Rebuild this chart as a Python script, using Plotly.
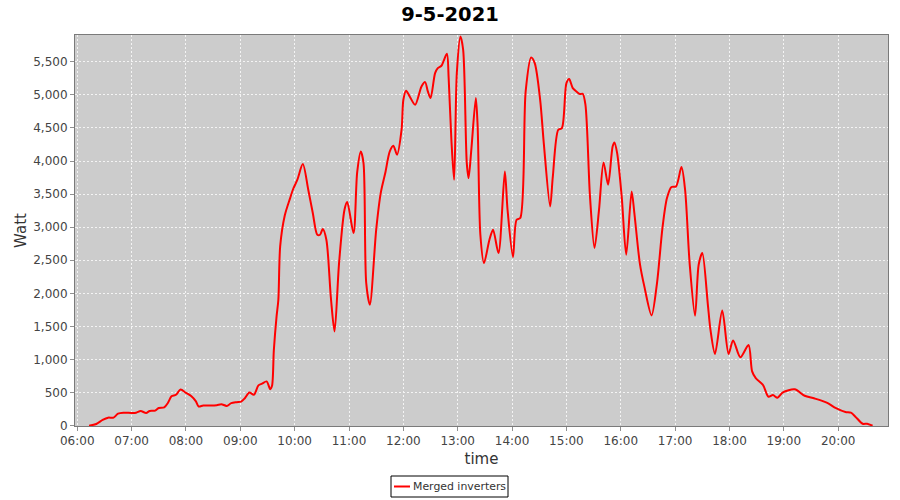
import plotly.graph_objects as go

date = "2021-05-09"
title_text = "9-5-2021"
series_name = "Merged inverters"

times = ["06:13", "06:21", "06:28", "06:34", "06:40", "06:45", "06:51", "07:00", "07:05", "07:10",
         "07:16", "07:20", "07:26", "07:30", "07:36", "07:40", "07:44", "07:49", "07:54", "08:00",
         "08:06", "08:11", "08:14", "08:19", "08:26", "08:34", "08:39", "08:45", "08:50", "08:56",
         "09:01", "09:05", "09:10", "09:15", "09:20", "09:24", "09:29", "09:33", "09:35", "09:37",
         "09:40", "09:42", "09:44", "09:49", "09:55", "09:58", "10:03", "10:09", "10:15", "10:20",
         "10:25", "10:28", "10:31", "10:35", "10:40", "10:44", "10:49", "10:55", "10:58", "11:05",
         "11:09", "11:13", "11:16", "11:19", "11:23", "11:30", "11:35", "11:40", "11:45", "11:49",
         "11:53", "11:58", "12:00", "12:03", "12:07", "12:13", "12:20", "12:24", "12:27", "12:30",
         "12:35", "12:38", "12:42", "12:48", "12:50", "12:53", "12:56", "12:59", "13:03", "13:06",
         "13:10", "13:12", "13:15", "13:20", "13:22", "13:25", "13:29", "13:35", "13:39", "13:45",
         "13:52", "13:55", "14:01", "14:05", "14:09", "14:15", "14:21", "14:25", "14:31", "14:35",
         "14:42", "14:45", "14:51", "14:55", "15:00", "15:03", "15:07", "15:11", "15:15", "15:18",
         "15:21", "15:26", "15:31", "15:36", "15:41", "15:46", "15:51", "15:53", "15:56", "16:01",
         "16:06", "16:12", "16:15", "16:21", "16:26", "16:34", "16:40", "16:46", "16:51", "16:56",
         "17:01", "17:07", "17:11", "17:16", "17:22", "17:26", "17:30", "17:36", "17:39", "17:44",
         "17:52", "17:59", "18:04", "18:12", "18:21", "18:25", "18:29", "18:37", "18:43", "18:48",
         "18:53", "18:59", "19:12", "19:23", "19:34", "19:48", "19:57", "20:08", "20:14", "20:19",
         "20:27", "20:32", "20:38"]

watts = [0, 25, 86, 121, 121, 181, 196, 192, 196, 222,
         192, 222, 227, 267, 277, 343, 443, 468, 546, 496,
         444, 367, 290, 305, 305, 310, 325, 299, 340, 355,
         364, 415, 502, 467, 609, 635, 669, 552, 603, 1138,
         1649, 1904, 2709, 3173, 3440, 3566, 3720, 3954, 3566, 3214,
         2886, 2886, 2972, 2810, 1930, 1425, 2458, 3264, 3380, 2912,
         3828, 4145, 3969, 2156, 1828, 2962, 3516, 3818, 4145, 4231,
         4095, 4473, 4926, 5062, 4976, 4850, 5127, 5193, 5052, 4951,
         5329, 5405, 5440, 5621, 5254, 4321, 3717, 5329, 5882, 5681,
         3969, 3743, 4170, 4951, 4522, 2886, 2458, 2810, 2962, 2609,
         3843, 3264, 2549, 3113, 3138, 5052, 5565, 5480, 4926, 4272,
         3314, 3767, 4473, 4498, 5178, 5239, 5103, 5052, 5012, 5017,
         4850, 3465, 2685, 3264, 3979, 3642, 4220, 4281, 4120, 3465,
         2584, 3540, 3214, 2458, 2105, 1667, 2156, 2987, 3440, 3607,
         3616, 3909, 3566, 2458, 1662, 2433, 2609, 1850, 1451, 1085,
         1740, 1085, 1289, 1034, 1218, 820, 718, 615, 437, 462,
         422, 503, 549, 452, 411, 345, 269, 207, 196, 136,
         29, 29, 0]

x_ticks = ["06:00", "07:00", "08:00", "09:00", "10:00", "11:00", "12:00", "13:00",
           "14:00", "15:00", "16:00", "17:00", "18:00", "19:00", "20:00"]

xs = [f"{date} {t}" for t in times]
tickvals = [f"{date} {t}" for t in x_ticks]

FONT = "DejaVu Sans"
W, H = 900, 500
ML, MR, MT, MB = 75, 12, 35, 74
PW, PH = W - ML - MR, H - MT - MB


def px(x):
    return (x - ML) / PW


def py(y):
    return (H - MB - y) / PH


fig = go.Figure()
fig.add_trace(go.Scatter(
    x=xs, y=watts, name=series_name, mode="lines",
    line=dict(color="#ff0000", width=2, shape="spline", smoothing=0.8),
    showlegend=False,
))

# custom legend box (matching the compact reference legend)
shapes = [
    dict(type="rect", xref="paper", yref="paper",
         x0=px(391), x1=px(508), y0=py(497), y1=py(476),
         line=dict(color="black", width=1), fillcolor="white", layer="above"),
    dict(type="line", xref="paper", yref="paper",
         x0=px(394), x1=px(410), y0=py(486.5), y1=py(486.5),
         line=dict(color="#ff0000", width=2), layer="above"),
]
annotations = [
    dict(text=series_name, xref="paper", yref="paper", x=px(411), y=py(486.5),
         xanchor="left", yanchor="middle", showarrow=False,
         font=dict(family=FONT, size=10.9, color="#333333")),
]

fig.update_layout(
    width=W, height=H,
    paper_bgcolor="white",
    plot_bgcolor="#cccccc",
    margin=dict(l=ML, r=MR, t=MT, b=MB, autoexpand=False),
    font=dict(family=FONT, size=12, color="#444444"),
    title=dict(text=title_text, x=0.5, xanchor="center", y=1 - 14 / 500, yanchor="middle",
               xref="container", yref="container",
               font=dict(family=FONT, size=19.5, color="black", weight="bold")),
    showlegend=False,
    shapes=shapes,
    annotations=annotations,
    xaxis=dict(
        type="date", automargin=False,
        range=[f"{date} 05:57:30", f"{date} 20:55:00"],
        tickvals=tickvals, ticktext=x_ticks,
        showgrid=True, gridcolor="#f4f4f4", griddash="2px,2px", gridwidth=1,
        zeroline=False,
        showline=True, linecolor="#7a7a7a", linewidth=1, mirror=True,
        ticks="outside", ticklen=4, tickcolor="#909090",
        tickfont=dict(family=FONT, size=12, color="#444444"),
        title=dict(text="time", standoff=6,
                   font=dict(family=FONT, size=15, color="#333333")),
    ),
    yaxis=dict(
        automargin=False,
        range=[-5, 5905],
        dtick=500, tick0=0, tickformat=",d",
        showgrid=True, gridcolor="#f4f4f4", griddash="2px,2px", gridwidth=1,
        zeroline=False,
        showline=True, linecolor="#7a7a7a", linewidth=1, mirror=True,
        ticks="outside", ticklen=4, tickcolor="#909090",
        tickfont=dict(family=FONT, size=12, color="#444444"),
        title=dict(text="Watt", standoff=2,
                   font=dict(family=FONT, size=15, color="#333333")),
    ),
)

fig.write_html("out.html", config={"displayModeBar": False},
               post_script="document.body.style.margin='0';document.body.style.overflow='hidden';")
